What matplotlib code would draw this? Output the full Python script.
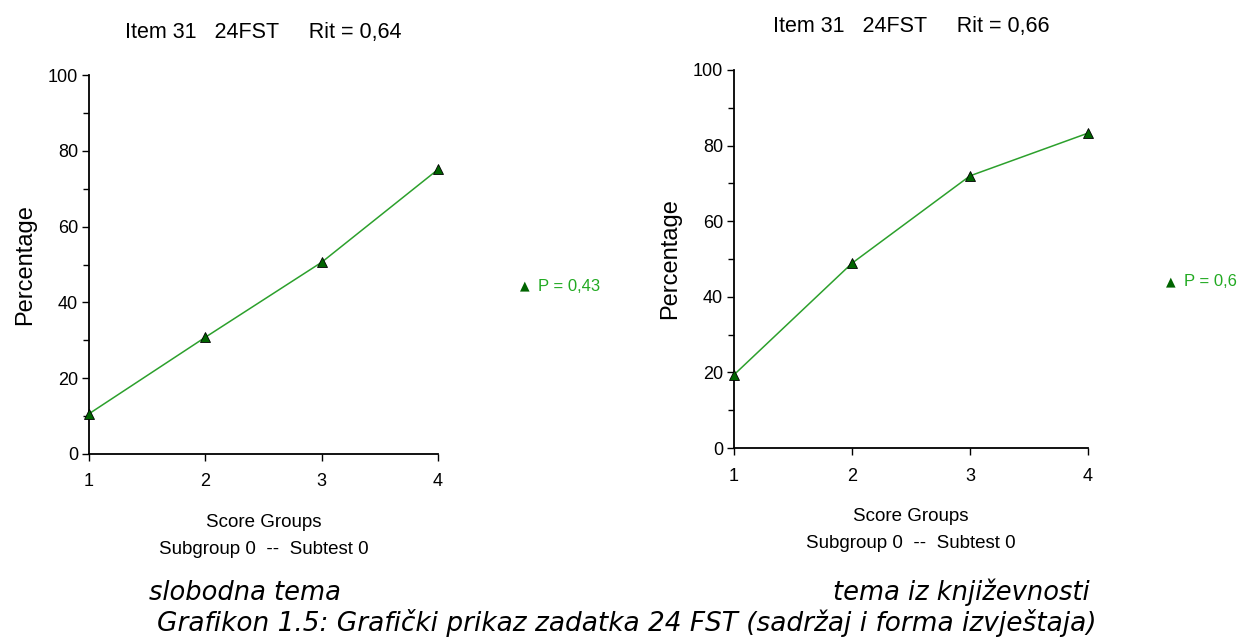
import matplotlib
matplotlib.use("Agg")
import matplotlib.pyplot as plt
from matplotlib.ticker import MultipleLocator

groups = [1, 2, 3, 4]
left_pct = [10.6, 30.8, 50.6, 75.1]
right_pct = [19.4, 48.9, 72.0, 83.3]
left_title = "Item 31   24FST     Rit = 0,64"
right_title = "Item 31   24FST     Rit = 0,66"
left_p = "P = 0,43"
right_p = "P = 0,6"
left_caption = "slobodna tema"
right_caption = "tema iz književnosti"
figure_caption = "Grafikon 1.5: Grafički prikaz zadatka 24 FST (sadržaj i forma izvještaja)"

line_color = "#2ca02c"
marker_color = "#006400"
font = "Liberation Sans"

fig = plt.figure(figsize=(12.42, 6.42), dpi=100)


def panel(rect, values, title, ptext, legend_xy):
	ax = fig.add_axes(rect)
	ax.plot(groups, values, color=line_color, lw=1.1, marker="^", ms=7,
			markerfacecolor=marker_color, markeredgecolor="black", markeredgewidth=0.6,
			clip_on=False, zorder=3)
	ax.set_xlim(1, 4)
	ax.set_ylim(0, 100)
	ax.set_xticks(groups)
	ax.yaxis.set_major_locator(MultipleLocator(20))
	ax.yaxis.set_minor_locator(MultipleLocator(10))
	for s in ["top", "right"]:
		ax.spines[s].set_visible(False)
	for s in ["left", "bottom"]:
		ax.spines[s].set_linewidth(1.3)
	ax.tick_params(axis="both", which="major", length=5, width=1, labelsize=13)
	ax.tick_params(axis="x", which="major", pad=9)
	ax.tick_params(axis="y", which="major", pad=3)
	ax.tick_params(axis="y", which="minor", length=4, width=1)
	for lab in ax.get_xticklabels() + ax.get_yticklabels():
		lab.set_fontfamily(font)
	ax.set_ylabel("Percentage", fontsize=17, family=font, labelpad=8)
	ax.set_xlabel("Score Groups\nSubgroup 0  --  Subtest 0", fontsize=13.5, family=font,
				  labelpad=17, linespacing=1.75)
	ax.set_title(title, fontsize=15.5, family=font, pad=27)
	# P-value legend outside the axes
	fig.text(legend_xy[0], legend_xy[1], "\u25B2", color=marker_color, fontsize=9,
			 ha="left", va="center", family="DejaVu Sans")
	fig.text(legend_xy[0] + 0.0145, legend_xy[1], ptext, color="#22aa22", fontsize=12,
			 ha="left", va="center", family=font)
	return ax


panel([0.0717, 0.293, 0.281, 0.590], left_pct, left_title, left_p, (0.419, 0.554))
panel([0.591, 0.302, 0.285, 0.589], right_pct, right_title, right_p, (0.939, 0.561))

fig.text(0.197, 0.077, left_caption, fontsize=18.5, style="italic", family="DejaVu Sans",
		 ha="center", va="center")
fig.text(0.774, 0.077, right_caption, fontsize=18.5, style="italic", family="DejaVu Sans",
		 ha="center", va="center")
fig.text(0.505, 0.029, figure_caption, fontsize=19, style="italic", family="DejaVu Sans",
		 ha="center", va="center")

fig.savefig("out.png", dpi=100)
